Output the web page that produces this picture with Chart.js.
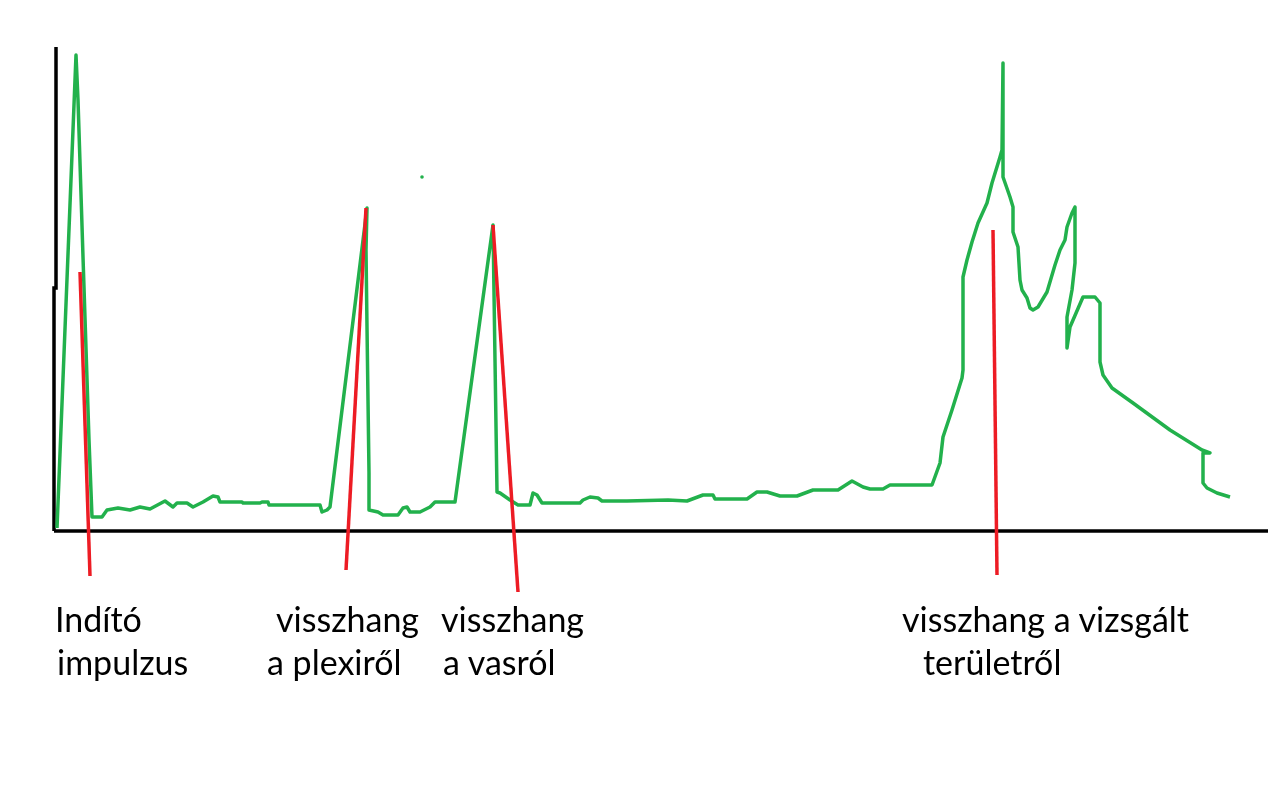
<!DOCTYPE html>
<html>
<head>
<meta charset="utf-8">
<script src="https://cdn.jsdelivr.net/npm/chart.js@4/dist/chart.umd.min.js"></script>
<style>
  html, body { margin: 0; padding: 0; background: #fff; }
  #wrap { position: relative; width: 1280px; height: 800px; overflow: hidden; }
  #echoChart { position: absolute; left: 0; top: 0; }
  .lbl {
    position: absolute;
    font-family: Lato, "Open Sans", sans-serif;
    font-size: 34px;
    line-height: 44px;
    color: #000;
    white-space: nowrap;
  }
</style>
</head>
<body>
<div id="wrap">
  <canvas id="echoChart" width="1280" height="800"></canvas>
</div>
<script>
// ===== Data (time units along x, amplitude units along y) =====
const echoTime = [3, 22, 24, 29, 35, 38, 48, 53, 64, 76, 86, 96, 111, 119, 123, 133, 139, 149, 159, 164,
  166, 188, 189, 206, 208, 214, 215, 266, 268, 273, 276, 313, 312, 313, 314, 315, 315, 324, 329, 344,
  349, 353, 356, 366, 376, 381, 401, 439, 441, 443, 446, 456, 464, 476, 479, 483, 488, 526, 529, 536,
  544, 548, 573, 614, 633, 649, 659, 661, 693, 703, 713, 726, 743, 759, 784, 798, 809, 816, 829, 836,
  878, 886, 889, 898, 908, 909, 909, 913, 918, 924, 933, 938, 946, 948, 949, 949, 956, 959, 959, 964,
  966, 968, 973, 976, 979, 984, 993, 1001, 1006, 1011, 1013, 1018, 1021, 1021, 1018, 1013, 1013, 1016, 1029, 1041,
  1046, 1046, 1049, 1058, 1079, 1116, 1148, 1156, 1149, 1149, 1153, 1163, 1176];
const echoAmp = [3, 476, 431, 274, 91, 14, 14, 21, 23, 21, 24, 22, 30, 24, 28, 28, 24, 29, 35, 34,
  29, 29, 28, 28, 29, 29, 26, 26, 19, 21, 24, 323, 281, 204, 131, 58, 21, 19, 16, 16,
  23, 24, 19, 19, 24, 29, 29, 306, 171, 39, 38, 31, 26, 26, 38, 36, 28, 28, 31, 34,
  33, 30, 30, 31, 30, 36, 36, 32, 32, 39, 39, 35, 35, 41, 41, 50, 44, 42, 42, 46,
  46, 68, 94, 121, 153, 161, 254, 271, 289, 308, 328, 348, 374, 381, 468, 354, 334, 324, 299, 284,
  251, 241, 233, 223, 221, 224, 239, 266, 281, 291, 304, 318, 324, 268, 241, 214, 183, 204, 234, 234,
  228, 169, 156, 143, 128, 101, 81, 78, 78, 48, 43, 38, 34];

// stray dot above the plexi echo
const strayDot = [{ x: 368, y: 354 }];

// red marker lines: [top, bottom] for each event
const markerTime = [[26, 36], [312, 292], [439, 464], [939, 943]];
const markerAmp = [[259, -45], [323, -39], [306, -61], [301, -44]];

// axis extents
const xRange = [0, 1214];
const yRange = [-69, 484];
const axisBreak = 243;

// label texts (two lines each)
const labelLines = [
  ['Indító', 'impulzus'],
  ['visszhang', 'a plexiről'],
  ['visszhang', 'a vasról'],
  ['visszhang a vizsgált', 'területről']
];
// label layout (left of each line, px)
const labelLeft = [[55, 57], [276, 267], [441, 443], [902, 923]];
const labelTop = [597, 640];

// ===== Build datasets =====
const green = '#22b14c';
const red = '#ed1c24';

const traceData = echoTime.map((t, i) => ({ x: t, y: echoAmp[i] }));

const markerSets = markerTime.map((ts, i) => ({
    data: ts.map((t, j) => ({ x: t, y: markerAmp[i][j] })),
    borderColor: red,
    borderWidth: 3.5,
    pointRadius: 0,
    order: 0,
    clip: false
}));

const axisSets = [
    {
        data: [{ x: 0, y: 0 }, { x: 0, y: axisBreak }, { x: 2, y: axisBreak }, { x: 2, y: yRange[1] }],
        borderColor: '#000', borderWidth: 3.5, pointRadius: 0, order: 3, clip: false
    },
    {
        data: [{ x: xRange[0], y: 0 }, { x: xRange[1], y: 0 }],
        borderColor: '#000', borderWidth: 3.5, pointRadius: 0, order: 3, clip: false
    }
];

const config = {
    type: 'line',
    data: {
        datasets: [
            ...markerSets,
            {
                data: traceData,
                borderColor: green,
                borderWidth: 3.5,
                pointRadius: 0,
                tension: 0,
                borderJoinStyle: 'round',
                order: 1,
                clip: false
            },
            {
                data: strayDot,
                showLine: false,
                pointRadius: 1.8,
                pointBorderWidth: 0,
                pointBackgroundColor: green,
                order: 1
            },
            ...axisSets
        ]
    },
    options: {
        responsive: false,
        animation: false,
        layout: { padding: { left: 54, right: 12, top: 47, bottom: 200 } },
        plugins: { legend: { display: false }, tooltip: { enabled: false } },
        scales: {
            x: { type: 'linear', min: xRange[0], max: xRange[1], display: false },
            y: { type: 'linear', min: yRange[0], max: yRange[1], display: false }
        }
    }
};

new Chart(document.getElementById('echoChart'), config);

// ===== Labels =====
const wrap = document.getElementById('wrap');
labelLines.forEach((lines, i) => {
    lines.forEach((txt, j) => {
        const d = document.createElement('div');
        d.className = 'lbl';
        d.textContent = txt;
        d.style.left = labelLeft[i][j] + 'px';
        d.style.top = labelTop[j] + 'px';
        wrap.appendChild(d);
    });
});
</script>
</body>
</html>
